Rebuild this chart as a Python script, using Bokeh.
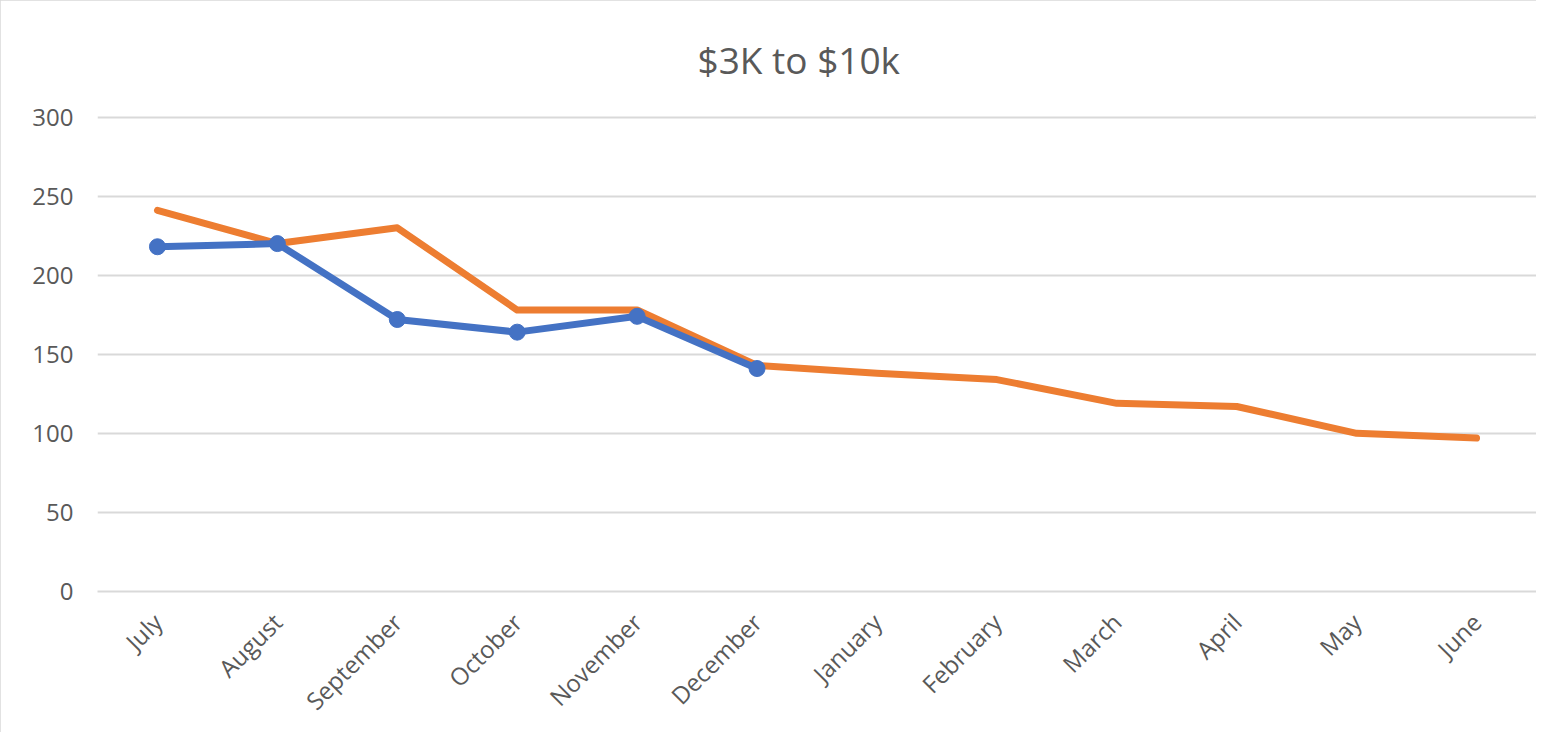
import math
from bokeh.plotting import figure
from bokeh.models import FactorRange, Range1d, FixedTicker
from bokeh.embed import file_html
from bokeh.resources import INLINE

months = ["July", "August", "September", "October", "November", "December",
          "January", "February", "March", "April", "May", "June"]
orange_values = [241, 220, 230, 178, 178, 143, 138, 134, 119, 117, 100, 97]
blue_months = months[:6]
blue_values = [218, 220, 172, 164, 174, 141]
y_ticks = [0, 50, 100, 150, 200, 250, 300]
title_text = "$3K to $10k"

TEXT = "#595959"
GRID = "#d9d9d9"
FONT = "Open Sans"

p = figure(width=1536, height=732, output_backend="svg", toolbar_location=None,
           x_range=FactorRange(factors=months, range_padding=0),
           y_range=Range1d(0, 301),
           min_border_left=97, min_border_right=0, min_border_top=115, min_border_bottom=141,
           title=title_text)

p.title.text_font = FONT
p.title.text_font_size = "37px"
p.title.text_font_style = "normal"
p.title.text_color = TEXT
p.title.align = "left"
p.title.offset = 600
p.title.standoff = 61

p.outline_line_color = None
p.background_fill_color = "white"
p.border_fill_color = "white"
p.styles = {"outline": "2px solid #d9d9d9", "outline-offset": "-2px"}

p.xgrid.grid_line_color = None
p.ygrid.grid_line_color = GRID
p.ygrid.grid_line_width = 2
p.yaxis.ticker = FixedTicker(ticks=y_ticks)

p.yaxis.axis_line_color = None
p.yaxis.major_tick_line_color = None
p.yaxis.minor_tick_line_color = None
p.yaxis.major_label_standoff = 18
p.yaxis.major_label_text_font = FONT
p.yaxis.major_label_text_font_size = "24px"
p.yaxis.major_label_text_color = TEXT

p.xaxis.axis_line_color = GRID
p.xaxis.axis_line_width = 2
p.xaxis.major_tick_line_color = None
p.xaxis.minor_tick_line_color = None
p.xaxis.major_label_orientation = math.pi / 4
p.xaxis.major_label_standoff = 20
p.xaxis.major_label_text_font = FONT
p.xaxis.major_label_text_font_size = "24px"
p.xaxis.major_label_text_color = TEXT

p.line(x=months, y=orange_values, line_color="#ED7D31", line_width=7,
       line_join="round", line_cap="round")
p.line(x=blue_months, y=blue_values, line_color="#4472C4", line_width=7,
       line_join="round", line_cap="round")
p.scatter(x=blue_months, y=blue_values, size=16, marker="circle",
          fill_color="#4472C4", line_color="#4472C4")

open("out.html", "w").write(file_html(p, INLINE))
